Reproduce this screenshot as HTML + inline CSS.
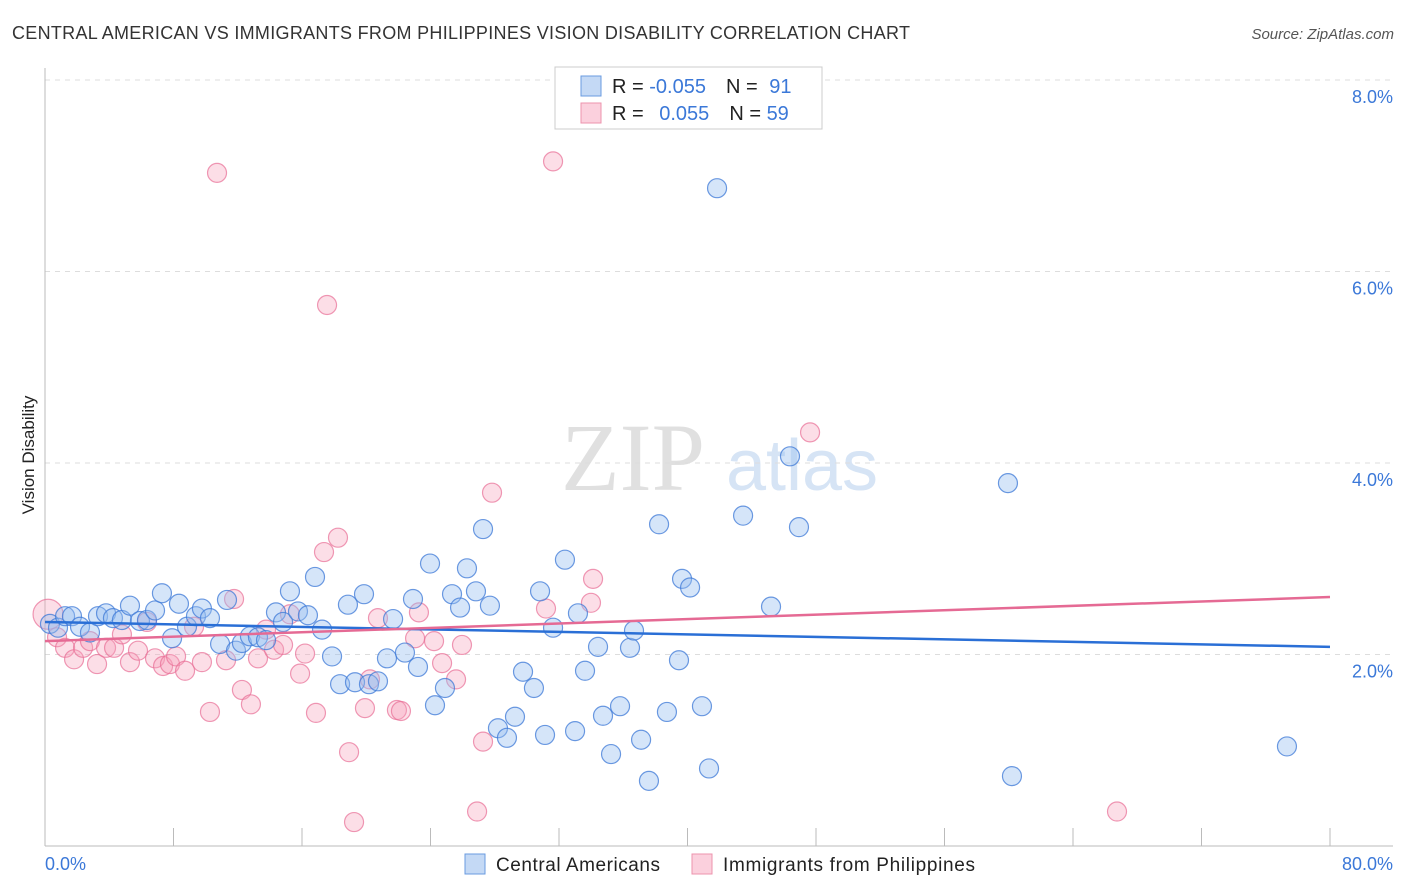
<!DOCTYPE html>
<html><head><meta charset="utf-8"><style>
body{margin:0;background:#fff;font-family:"Liberation Sans",sans-serif;}
svg{display:block}
</style></head><body>
<svg width="1406" height="892" xmlns="http://www.w3.org/2000/svg">
<text x="12" y="39" font-size="18" fill="#333" textLength="898">CENTRAL AMERICAN VS IMMIGRANTS FROM PHILIPPINES VISION DISABILITY CORRELATION CHART</text>
<text x="1394" y="39" font-size="15" fill="#555" font-style="italic" text-anchor="end">Source: ZipAtlas.com</text>
<g><text x="633" y="490" font-size="96" fill="#e0e0e0" font-family="Liberation Serif,serif" text-anchor="middle">ZIP</text><text x="802" y="490" font-size="72" fill="#d6e4f5" text-anchor="middle">atlas</text></g>
<g id="grid"></g><g id="axes"></g><g id="pts"></g><g id="trends"></g>
<text transform="translate(34,455) rotate(-90)" font-size="17" fill="#222" text-anchor="middle">Vision Disability</text>
<text x="45" y="870" font-size="18" fill="#3b78d8">0.0%</text>
<text x="1393" y="870" font-size="18" fill="#3b78d8" text-anchor="end">80.0%</text>
<g>
<rect x="555" y="67" width="267" height="62" fill="#fff" stroke="#ccc"/>
<rect x="581" y="76" width="20" height="20" fill="#c4d9f5" stroke="#6a9be0"/>
<rect x="581" y="103" width="20" height="20" fill="#fbd0dd" stroke="#ec93ad"/>
<text x="612" y="93" font-size="20" fill="#222">R = <tspan fill="#3b78d8">-0.055</tspan><tspan dx="20">N = </tspan><tspan fill="#3b78d8" dx="6">91</tspan></text>
<text x="612" y="120" font-size="20" fill="#222">R = <tspan fill="#3b78d8" dx="10">0.055</tspan><tspan dx="20">N = </tspan><tspan fill="#3b78d8">59</tspan></text>
</g>
<g>
<rect x="465" y="854" width="20" height="20" fill="#c4d9f5" stroke="#6a9be0"/>
<text x="496" y="871" font-size="19" fill="#222" textLength="164">Central Americans</text>
<rect x="692" y="854" width="20" height="20" fill="#fbd0dd" stroke="#ec93ad"/>
<text x="723" y="871" font-size="19" fill="#222" textLength="252">Immigrants from Philippines</text>
</g>
</svg>
<script>
const yTicks=[2,4,6,8];
const yTickLabels=["2.0%","4.0%","6.0%","8.0%"];
const blueX=[0.31,0.81,1.25,1.68,2.18,2.80,3.30,3.80,4.23,4.79,5.29,5.91,6.35,6.85,7.28,7.91,8.34,8.84,9.40,9.77,10.27,10.90,11.33,11.89,12.26,12.76,13.26,13.76,14.38,14.82,15.25,15.75,16.37,16.81,17.25,17.87,18.37,18.86,19.30,19.86,20.17,20.73,21.29,21.67,22.41,22.91,23.22,23.97,24.28,24.90,25.34,25.84,26.27,26.83,27.27,27.70,28.20,28.76,29.26,29.76,30.44,30.82,31.13,31.63,32.37,33.00,33.18,33.62,34.43,34.74,35.24,35.80,36.42,36.67,37.11,37.60,38.23,38.72,39.47,39.66,40.16,40.90,41.34,41.84,43.46,45.20,46.38,46.94,59.95,60.20,77.32];
const blueY=[2.32,2.28,2.40,2.40,2.29,2.23,2.40,2.43,2.38,2.36,2.51,2.35,2.36,2.46,2.64,2.17,2.53,2.29,2.40,2.48,2.38,2.11,2.57,2.04,2.12,2.19,2.18,2.15,2.44,2.34,2.66,2.45,2.41,2.81,2.26,1.98,1.69,2.52,1.71,2.63,1.69,1.72,1.96,2.37,2.02,2.58,1.87,2.95,1.47,1.65,2.63,2.49,2.90,2.66,3.31,2.51,1.23,1.13,1.35,1.82,1.65,2.66,1.16,2.28,2.99,1.20,2.43,1.83,2.08,1.36,0.96,1.46,2.07,2.25,1.11,0.68,3.36,1.40,1.94,2.79,2.70,1.46,0.81,6.87,3.45,2.50,4.07,3.33,3.79,0.73,1.04];
const pinkX=[0.19,0.75,1.25,1.81,2.37,2.80,3.24,3.80,4.30,4.79,5.29,5.79,6.35,6.85,7.35,7.78,8.16,8.72,9.28,9.77,10.27,10.71,11.27,11.77,12.26,12.82,13.26,13.76,14.26,14.82,15.25,15.88,16.19,16.87,17.37,17.56,18.24,18.93,19.24,19.92,20.23,20.73,21.91,22.16,23.04,23.28,24.22,24.72,25.59,25.96,27.27,26.90,27.83,31.19,31.63,34.12,33.99,47.63,66.74];
const pinkY=[2.42,2.18,2.07,1.95,2.07,2.14,1.90,2.07,2.07,2.21,1.92,2.04,2.34,1.96,1.88,1.90,1.98,1.83,2.29,1.92,1.40,7.03,1.94,2.58,1.63,1.48,1.96,2.26,2.05,2.10,2.42,1.80,2.01,1.39,3.07,5.65,3.22,0.98,0.25,1.44,1.74,2.38,1.42,1.41,2.17,2.44,2.14,1.91,1.74,2.10,1.09,0.36,3.69,2.48,7.15,2.79,2.54,4.32,0.36];
const blueTrend=[2.34,2.08];
const pinkTrend=[2.14,2.60];
const trendX=[0,80];
const X=v=>45+v/80*1285, Y=v=>846-v*95.75;
const NS="http://www.w3.org/2000/svg";
function mk(p,t,a){const e=document.createElementNS(NS,t);for(const k in a)e.setAttribute(k,a[k]);document.getElementById(p).appendChild(e);return e;}
yTicks.forEach((t,i)=>{
 const l=mk('grid','line',{x1:45,x2:1393,y1:Y(t),y2:Y(t),stroke:'#ddd','stroke-dasharray':'5,5'});
 
 
 const tx=mk('grid','text',{x:1393,y:Y(t)+23,'font-size':18,fill:'#3b78d8','text-anchor':'end'});
 tx.textContent=yTickLabels[i];
 
 
});
let a=mk('axes','line',{x1:45,x2:45,y1:68,y2:846,stroke:'#bbb'});


a=mk('axes','line',{x1:45,x2:1393,y1:846,y2:846,stroke:'#bbb'});


for(let i=1;i<=10;i++){const t=mk('axes','line',{x1:X(i*8),x2:X(i*8),y1:828,y2:846,stroke:'#bbb'});
 
 }
pinkX.forEach((x,i)=>{const c=mk('pts','circle',{cx:X(x),cy:Y(pinkY[i]),r:i==0?15:9.5,fill:'rgba(245,160,185,0.35)',stroke:'rgba(232,110,150,0.7)','stroke-width':1.2});
 
 });
blueX.forEach((x,i)=>{const c=mk('pts','circle',{cx:X(x),cy:Y(blueY[i]),r:9.5,fill:'rgba(150,190,240,0.4)',stroke:'rgba(60,120,215,0.75)','stroke-width':1.2});
 
 });
let t=mk('trends','line',{x1:X(trendX[0]),x2:X(trendX[1]),y1:Y(blueTrend[0]),y2:Y(blueTrend[1]),stroke:'#2a6fd6','stroke-width':2.5});


t=mk('trends','line',{x1:X(trendX[0]),x2:X(trendX[1]),y1:Y(pinkTrend[0]),y2:Y(pinkTrend[1]),stroke:'#e56a94','stroke-width':2.5});


</script>
</body></html>
